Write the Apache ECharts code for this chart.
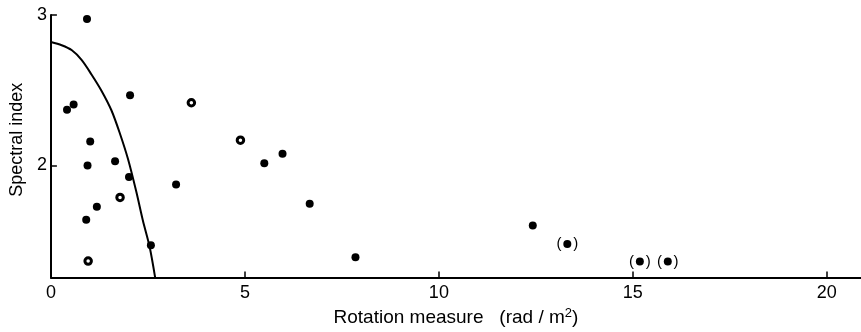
<!DOCTYPE html>
<html>
<head>
<meta charset="utf-8">
<script src="https://cdn.jsdelivr.net/npm/echarts@6/dist/echarts.min.js"></script>
<style>
  html, body { margin: 0; padding: 0; background: #fff; }
  #chart { width: 861px; height: 332px; }
</style>
</head>
<body>
<div id="chart"></div>
<script>
// filled dots: rotation measure (rad/m^2) and spectral index
const solidRM = [0.93, 0.415, 0.585, 2.04, 1.013, 0.944, 1.654, 5.5, 5.97, 2.013, 3.226, 1.184, 0.91, 2.577, 6.67, 7.85, 12.42]
const solidIndex = [2.974, 2.371, 2.406, 2.467, 2.159, 2.0, 2.028, 2.015, 2.078, 1.924, 1.874, 1.725, 1.639, 1.47, 1.745, 1.391, 1.602]

// dots printed with a small light centre
const ringRM = [0.96, 3.62, 4.885, 1.782]
const ringIndex = [1.365, 2.417, 2.168, 1.788]

// uncertain values, drawn in brackets
const bracketRM = [13.31, 15.18, 15.9]
const bracketIndex = [1.479, 1.362, 1.362]

// curve
const curveRM = [0, 0.277, 0.533, 0.79, 1.046, 1.303, 1.559, 1.774, 1.987, 2.2, 2.372, 2.544, 2.687]
const curveIndex = [2.82, 2.799, 2.767, 2.702, 2.605, 2.497, 2.367, 2.216, 2.043, 1.827, 1.633, 1.46, 1.255]

const xTicks = [0, 5, 10, 15, 20]
const yTicks = [2, 3]

const zip = (a, b) => a.map((v, i) => [v, b[i]])
const font = 'Liberation Sans, DejaVu Sans, sans-serif'

const chart = echarts.init(document.getElementById('chart'))

const option = {
    backgroundColor: '#fff',
    animation: false,
    textStyle: { fontFamily: font, color: '#000' },
    grid: { left: 46.5, right: 0, top: 15, bottom: 47.7 },
    xAxis: {
        type: 'value',
        min: 0,
        max: 20.88,
        name: 'Rotation measure   (rad / m{sup|2})',
        nameLocation: 'middle',
        nameGap: 28,
        nameTextStyle: {
            fontSize: 19,
            color: '#000',
            fontFamily: font,
            rich: {
                sup: { fontSize: 13, verticalAlign: 'bottom', padding: [0, 0, 9, 0], color: '#000' }
            }
        },
        axisLine: { onZero: false, lineStyle: { color: '#000', width: 2 } },
        axisTick: { show: true, inside: true, length: 6, customValues: xTicks, lineStyle: { color: '#000', width: 1.5 } },
        axisLabel: { customValues: xTicks, fontSize: 18, color: '#000', margin: 6, fontFamily: font },
        splitLine: { show: false }
    },
    yAxis: {
        type: 'value',
        min: 1.255,
        max: 3,
        name: 'Spectral index',
        nameLocation: 'middle',
        nameGap: 21,
        nameRotate: 90,
        nameTextStyle: { fontSize: 18, color: '#000', fontFamily: font, padding: [0, 0, 0, 13] },
        axisLine: { onZero: false, lineStyle: { color: '#000', width: 2 } },
        axisTick: { show: true, inside: true, length: 6, customValues: yTicks, lineStyle: { color: '#000', width: 1.5 } },
        axisLabel: { customValues: yTicks, fontSize: 18, color: '#000', margin: 4, fontFamily: font },
        splitLine: { show: false }
    },
    series: [
        {
            type: 'line',
            data: zip(curveRM, curveIndex),
            smooth: 0.3,
            showSymbol: false,
            lineStyle: { color: '#000', width: 2 },
            silent: true
        },
        {
            type: 'scatter',
            data: zip(solidRM, solidIndex),
            symbolSize: 8,
            itemStyle: { color: '#000', opacity: 1 }
        },
        {
            type: 'scatter',
            data: zip(ringRM, ringIndex),
            symbolSize: 6.5,
            itemStyle: { color: '#fff', borderColor: '#000', borderWidth: 3, opacity: 1 }
        },
        {
            type: 'scatter',
            data: zip(bracketRM, bracketIndex),
            symbolSize: 8,
            itemStyle: { color: '#000', opacity: 1 },
            label: {
                show: true,
                position: 'inside',
                formatter: '(\u2002 )',
                fontSize: 15,
                color: '#000',
                fontFamily: font
            }
        }
    ]
}

chart.setOption(option)
</script>
</body>
</html>
